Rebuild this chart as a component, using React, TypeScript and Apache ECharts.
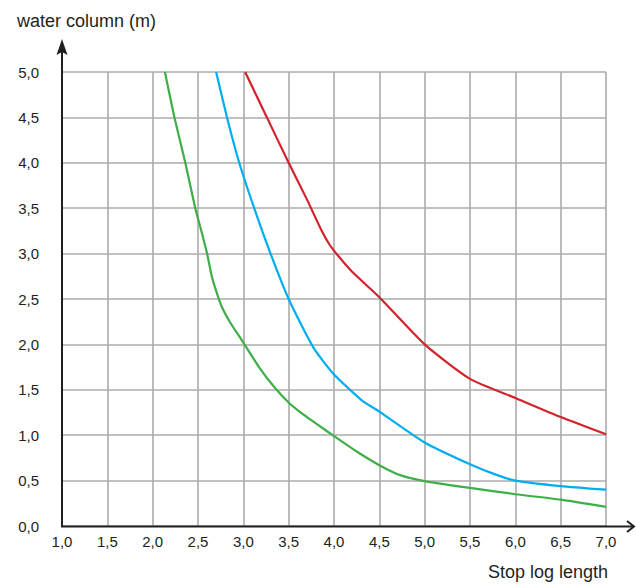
import React, { useEffect, useRef } from "react";
import * as echarts from "echarts";

const xTicks = [1.0, 1.5, 2.0, 2.5, 3.0, 3.5, 4.0, 4.5, 5.0, 5.5, 6.0, 6.5, 7.0];
const yTicks = [0, 0.5, 1.0, 1.5, 2.0, 2.5, 3.0, 3.5, 4.0, 4.5, 5.0];

const redSeries: [number, number][] = [
  [3.02, 5.0], [3.26, 4.5], [3.5, 4.0], [3.7, 3.6], [3.86, 3.26], [3.95, 3.1],
  [4.05, 2.97], [4.2, 2.8], [4.5, 2.52], [5.0, 2.0], [5.5, 1.62], [6.0, 1.41],
  [6.5, 1.2], [7.0, 1.01],
];
const blueSeries: [number, number][] = [
  [2.7, 5.0], [2.82, 4.5], [2.955, 4.0], [3.12, 3.5], [3.3, 3.0], [3.5, 2.5],
  [3.77, 1.97], [3.99, 1.68], [4.3, 1.39], [4.5, 1.26], [5.0, 0.92], [5.5, 0.68],
  [5.8, 0.56], [6.0, 0.5], [6.5, 0.44], [7.0, 0.4],
];
const greenSeries: [number, number][] = [
  [2.135, 5.0], [2.24, 4.5], [2.36, 4.0], [2.47, 3.5], [2.55, 3.2], [2.6, 3.0],
  [2.65, 2.76], [2.69, 2.62], [2.76, 2.42], [2.85, 2.25], [3.0, 2.02], [3.18, 1.74],
  [3.35, 1.52], [3.5, 1.36], [3.62, 1.26], [3.8, 1.13], [4.0, 0.99], [4.25, 0.82],
  [4.5, 0.67], [4.73, 0.56], [5.0, 0.495], [5.5, 0.42], [6.0, 0.35], [6.5, 0.29],
  [7.0, 0.21],
];

const yTitle = "water column (m)";
const xTitle = "Stop log length";

const fmt = (v: number) => v.toFixed(1).replace(".", ",");

export default function App() {
  const ref = useRef<HTMLDivElement>(null);
  useEffect(() => {
    if (!ref.current) return;
    const chart = echarts.init(ref.current, undefined, { renderer: "svg" });
    const font = "'Liberation Sans', Arial, sans-serif";
    const lineStyle = (c: string) => ({ color: c, width: 2.2 });
    chart.setOption({
      animation: false,
      backgroundColor: "#ffffff",
      grid: { left: 62, top: 72, right: 30, bottom: 59, containLabel: false },
      xAxis: {
        type: "value",
        min: xTicks[0],
        max: xTicks[xTicks.length - 1],
        interval: 0.5,
        axisLine: { show: false },
        axisTick: { show: false },
        splitLine: { show: true, lineStyle: { color: "#ababad", width: 1.6 } },
        axisLabel: {
          formatter: (v: number) => fmt(v),
          color: "#231f20",
          fontSize: 15,
          fontFamily: font,
          margin: 8,
          showMinLabel: true,
          showMaxLabel: true,
        },
      },
      yAxis: {
        type: "value",
        min: yTicks[0],
        max: yTicks[yTicks.length - 1],
        interval: 0.5,
        axisLine: { show: false },
        axisTick: { show: false },
        splitLine: { show: true, lineStyle: { color: "#ababad", width: 1.6 } },
        axisLabel: {
          formatter: (v: number) => fmt(v),
          color: "#231f20",
          fontSize: 15,
          fontFamily: font,
          margin: 23,
        },
      },
      series: [
        { type: "line", data: redSeries, symbol: "none", smooth: 0.2, lineStyle: lineStyle("#d3222a"), z: 3 },
        { type: "line", data: blueSeries, symbol: "none", smooth: 0.2, lineStyle: lineStyle("#00aeef"), z: 3 },
        { type: "line", data: greenSeries, symbol: "none", smooth: 0.2, lineStyle: lineStyle("#3fae49"), z: 3 },
      ],
      graphic: [
        { type: "line", shape: { x1: 62, y1: 527, x2: 62, y2: 46 }, style: { stroke: "#231f20", lineWidth: 2 }, z: 10 },
        { type: "polygon", shape: { points: [[62, 39], [56.5, 55], [62, 52], [67.5, 55]] }, style: { fill: "#231f20" }, z: 10 },
        { type: "line", shape: { x1: 61, y1: 526.5, x2: 633, y2: 526.5 }, style: { stroke: "#231f20", lineWidth: 2 }, z: 10 },
        { type: "polyline", shape: { points: [[627, 521], [634, 526.5], [627, 532]] }, style: { stroke: "#231f20", lineWidth: 2, fill: "none" }, z: 10 },
        { type: "text", left: 17, top: 12, style: { text: yTitle, font: `18px ${font}`, fill: "#231f20" } },
        { type: "text", left: 488, top: 563, style: { text: xTitle, font: `18px ${font}`, fill: "#231f20" } },
      ],
    });
    return () => chart.dispose();
  }, []);
  return <div ref={ref} style={{ position: "absolute", left: 0, top: 0, width: 636, height: 585 }} />;
}
